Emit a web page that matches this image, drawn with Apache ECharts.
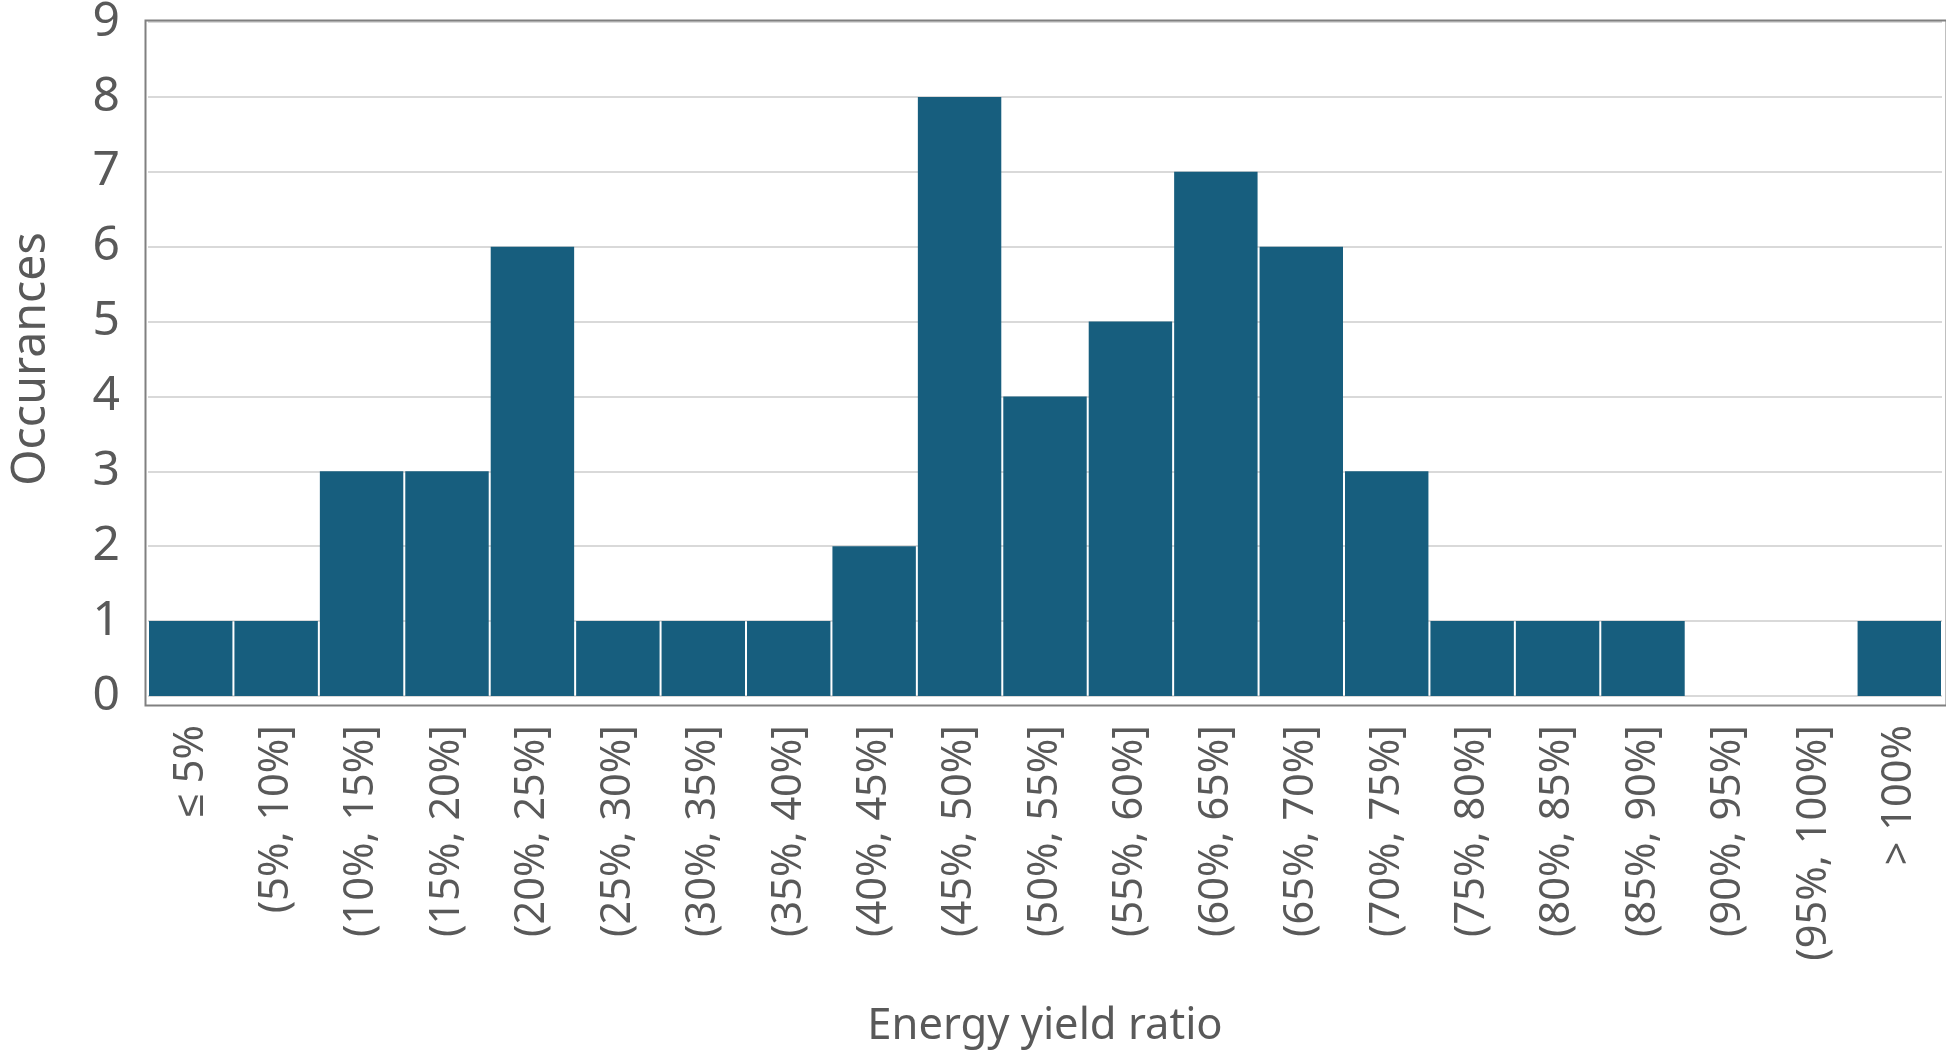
<!DOCTYPE html>
<html>
<head>
<meta charset="utf-8">
<script src="https://cdn.jsdelivr.net/npm/echarts@6/dist/echarts.min.js"></script>
<style>html,body{margin:0;padding:0;background:#fff;}#chart{width:1946px;height:1053px;}</style>
</head>
<body>
<div id="chart"></div>
<script>
const categories = ['\u2264 5%', '(5%, 10%]', '(10%, 15%]', '(15%, 20%]', '(20%, 25%]', '(25%, 30%]', '(30%, 35%]', '(35%, 40%]', '(40%, 45%]', '(45%, 50%]', '(50%, 55%]', '(55%, 60%]', '(60%, 65%]', '(65%, 70%]', '(70%, 75%]', '(75%, 80%]', '(80%, 85%]', '(85%, 90%]', '(90%, 95%]', '(95%, 100%]', '> 100%'];
const occurrences = [1, 1, 3, 3, 6, 1, 1, 1, 2, 8, 4, 5, 7, 6, 3, 1, 1, 1, 0, 0, 1];
const yTicks = [0, 1, 2, 3, 4, 5, 6, 7, 8, 9];
const xTitle = 'Energy yield ratio';
const yTitle = 'Occurances';

const FONT = '"Noto Sans", sans-serif';
const chart = echarts.init(document.getElementById('chart'));
chart.setOption({
  animation: false,
  backgroundColor: '#ffffff',
  grid: { left: 148, right: 4, top: 22, bottom: 357, containLabel: false, outerBoundsMode: 'none' },
  graphic: [{
    type: 'rect', left: 143, top: 18, z: 100, silent: true,
    shape: { width: 1801, height: 685 },
    style: { fill: 'none', stroke: '#808080', lineWidth: 2 }
  }],
  xAxis: {
    type: 'category',
    data: categories,
    name: xTitle,
    nameLocation: 'middle',
    nameGap: 309,
    nameMoveOverlap: false,
    nameTextStyle: { fontFamily: FONT, fontSize: 43.5, color: '#595959' },
    axisLine: { show: false },
    axisTick: { show: false },
    axisLabel: { interval: 0, rotate: 90, margin: 29, fontFamily: FONT, fontSize: 41.5, color: '#595959' }
  },
  yAxis: {
    type: 'value',
    min: yTicks[0], max: yTicks[yTicks.length - 1], interval: 1,
    name: yTitle,
    nameLocation: 'middle',
    nameGap: 93,
    nameMoveOverlap: false,
    nameTextStyle: { fontFamily: FONT, fontSize: 46.5, color: '#595959' },
    axisLine: { show: false },
    axisTick: { show: false },
    splitLine: { lineStyle: { color: '#d9d9d9', width: 2 } },
    axisLabel: { margin: 28, padding: [14, 0, 0, 0], fontFamily: FONT, fontSize: 48, color: '#595959' }
  },
  series: [{
    type: 'bar',
    data: occurrences,
    barCategoryGap: 2,
    itemStyle: { color: '#175e7e' }
  }]
});
</script>
</body>
</html>
